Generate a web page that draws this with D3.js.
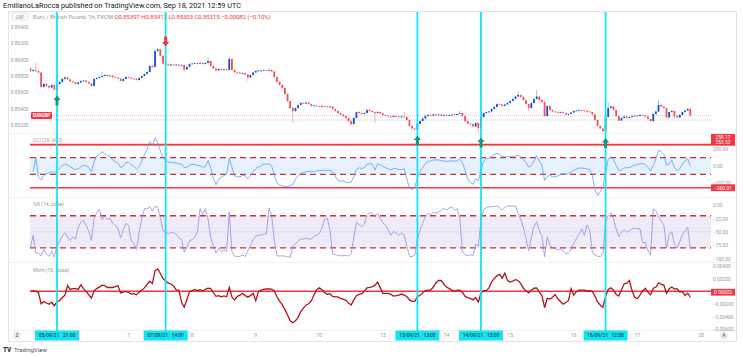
<!DOCTYPE html>
<html><head><meta charset="utf-8">
<script src="https://cdn.jsdelivr.net/npm/d3@7/dist/d3.min.js"></script>
<style>
html,body{margin:0;padding:0;background:#fff;}
svg{display:block;font-family:Roboto,"Liberation Sans",sans-serif;}
</style></head><body>
<svg id="c" width="743" height="356"></svg>
<script>
// ---------------- data (EUR/GBP 1h, FXCM) ----------------
const firstOpen = 0.85892;
const closes = [
.85862,.85874,.85862,.85843,.85666,.85702,.85678,.85659,.85690,.85635,
.85702,.85727,.85764,.85782,.85757,.85733,.85721,.85702,.85721,.85739,
.85745,.85727,.85708,.85678,.85764,.85776,.85788,.85800,.85813,.85800,
.85806,.85788,.85782,.85770,.85739,.85764,.85788,.85782,.85770,.85764,
.85751,.85776,.85800,.85825,.85849,.85923,.85911,.86107,.86125,.86045,
.85953,.85941,.85929,.85941,.85935,.85941,.85929,.85935,.85880,.85911,
.85947,.85953,.85960,.85953,.85960,.85947,.85960,.85984,.85923,.85892,
.85868,.85886,.85874,.85880,.85874,.86009,.85874,.85849,.85843,.85831,
.85837,.85819,.85782,.85813,.85843,.85862,.85868,.85868,.85874,.85868,
.85874,.85855,.85788,.85727,.85690,.85653,.85580,.85494,.85408,.85372,
.85408,.85445,.85470,.85463,.85476,.85457,.85433,.85439,.85433,.85427,
.85433,.85427,.85421,.85427,.85396,.85372,.85347,.85329,.85310,.85286,
.85249,.85212,.85286,.85359,.85347,.85335,.85347,.85384,.85372,.85359,
.85347,.85359,.85341,.85323,.85316,.85304,.85298,.85310,.85304,.85298,
.85304,.85298,.85261,.85188,.85157,.85145,.85212,.85249,.85280,.85310,
.85323,.85316,.85329,.85323,.85329,.85316,.85323,.85316,.85323,.85329,
.85323,.85335,.85347,.85310,.85249,.85218,.85212,.85182,.85225,.85163,
.85298,.85347,.85359,.85365,.85396,.85421,.85457,.85451,.85433,.85451,
.85470,.85494,.85519,.85549,.85568,.85543,.85506,.85457,.85408,.85470,
.85519,.85549,.85506,.85482,.85310,.85433,.85384,.85365,.85359,.85353,
.85359,.85347,.85329,.85335,.85353,.85372,.85378,.85384,.85378,.85372,
.85365,.85359,.85329,.85261,.85188,.85157,.85127,.85298,.85408,.85427,
.85384,.85310,.85255,.85286,.85304,.85286,.85298,.85310,.85316,.85310,
.85323,.85316,.85304,.85274,.85249,.85335,.85365,.85445,.85427,.85408,
.85292,.85359,.85372,.85310,.85292,.85323,.85359,.85378,.85397,.85315];
const highs = [
.85905,.85890,.85960,.85870,.85850,.85715,.85710,.85690,.85700,.85695,
.85710,.85740,.85775,.85795,.85790,.85765,.85740,.85728,.85730,.85748,
.85755,.85752,.85735,.85715,.85772,.85785,.85798,.85850,.85822,.85825,
.85815,.85815,.85795,.85790,.85775,.85770,.85795,.85795,.85788,.85778,
.85770,.85782,.85806,.85832,.85858,.85930,.85935,.86115,.86143,.86130,
.86055,.85965,.85950,.85948,.85950,.85950,.85948,.85945,.85940,.85918,
.85955,.85962,.85968,.85968,.85968,.85966,.85968,.86033,.85990,.85930,
.85898,.85895,.85892,.85888,.85888,.86033,.86018,.85880,.85858,.85850,
.85845,.85842,.85825,.85820,.85850,.85870,.85876,.85878,.85882,.85880,
.85882,.85880,.85862,.85795,.85735,.85700,.85660,.85590,.85500,.85420,
.85415,.85452,.85482,.85480,.85485,.85482,.85462,.85448,.85448,.85440,
.85440,.85440,.85435,.85435,.85432,.85402,.85378,.85355,.85335,.85318,
.85292,.85255,.85295,.85368,.85368,.85355,.85355,.85392,.85392,.85380,
.85365,.85370,.85365,.85348,.85330,.85322,.85312,.85318,.85318,.85312,
.85312,.85359,.85305,.85268,.85195,.85165,.85220,.85258,.85290,.85318,
.85332,.85330,.85336,.85336,.85336,.85336,.85330,.85330,.85330,.85336,
.85336,.85342,.85372,.85352,.85315,.85255,.85228,.85220,.85232,.85230,
.85305,.85355,.85368,.85375,.85405,.85430,.85465,.85468,.85458,.85458,
.85478,.85502,.85528,.85556,.85617,.85575,.85550,.85512,.85462,.85478,
.85528,.85629,.85555,.85512,.85488,.85440,.85440,.85390,.85372,.85366,
.85366,.85366,.85352,.85342,.85360,.85380,.85386,.85392,.85392,.85386,
.85380,.85372,.85365,.85335,.85268,.85195,.85165,.85305,.85482,.85440,
.85432,.85390,.85316,.85292,.85312,.85312,.85305,.85318,.85324,.85324,
.85330,.85330,.85322,.85310,.85280,.85342,.85380,.85506,.85460,.85435,
.85415,.85366,.85380,.85378,.85318,.85330,.85366,.85386,.85405,.85412];
const lows = [
.85850,.85850,.85850,.85830,.85650,.85655,.85665,.85645,.85650,.85625,
.85617,.85695,.85720,.85755,.85750,.85725,.85712,.85695,.85695,.85715,
.85732,.85720,.85700,.85668,.85670,.85755,.85770,.85782,.85795,.85792,
.85792,.85770,.85772,.85760,.85730,.85732,.85758,.85775,.85762,.85755,
.85745,.85745,.85770,.85795,.85818,.85842,.85900,.85905,.86090,.86035,
.85945,.85930,.85920,.85922,.85928,.85928,.85920,.85922,.85849,.85870,
.85905,.85940,.85945,.85945,.85948,.85940,.85940,.85955,.85915,.85885,
.85850,.85860,.85865,.85866,.85866,.85868,.85865,.85840,.85835,.85822,
.85824,.85810,.85739,.85775,.85806,.85838,.85855,.85860,.85862,.85860,
.85862,.85848,.85780,.85718,.85680,.85640,.85565,.85480,.85395,.85225,
.85360,.85400,.85438,.85455,.85455,.85450,.85425,.85425,.85425,.85420,
.85420,.85420,.85412,.85412,.85388,.85362,.85338,.85320,.85300,.85275,
.85238,.85188,.85205,.85280,.85338,.85325,.85328,.85340,.85365,.85350,
.85225,.85340,.85332,.85315,.85308,.85296,.85290,.85290,.85296,.85290,
.85290,.85290,.85252,.85180,.85148,.85130,.85127,.85205,.85242,.85272,
.85305,.85308,.85310,.85315,.85315,.85308,.85308,.85308,.85308,.85315,
.85315,.85315,.85328,.85300,.85240,.85208,.85200,.85170,.85175,.85102,
.85155,.85290,.85340,.85350,.85360,.85390,.85415,.85442,.85425,.85428,
.85445,.85465,.85488,.85512,.85542,.85535,.85498,.85448,.85372,.85400,
.85462,.85512,.85498,.85472,.85298,.85300,.85375,.85355,.85350,.85345,
.85345,.85338,.85320,.85322,.85328,.85346,.85365,.85372,.85370,.85365,
.85358,.85350,.85320,.85252,.85178,.85148,.85096,.85120,.85290,.85400,
.85375,.85300,.85245,.85248,.85278,.85278,.85278,.85290,.85302,.85302,
.85302,.85308,.85296,.85265,.85240,.85242,.85328,.85358,.85418,.85400,
.85282,.85285,.85350,.85274,.85282,.85285,.85315,.85350,.85370,.85303];

const dayTickLabels = ["7","8","9","10","13","14","15","16","17","20"];
const dayTickBars   = [37,61,85,109,133,157,181,205,229,253];
const markerBars    = [10,51,146,170,217];
const markerLabels  = ["05/09/21   21:00","07/09/21   14:00","13/09/21   13:00","14/09/21   13:00","16/09/21   12:00"];
const signalDirs    = ["up","down","up","up","up"];
const priceTicks = [0.852,0.854,0.856,0.858,0.860,0.862,0.864];
const cciTicks = [200,0,-200];
const cciLevels = [258.17,253.52,-260.01];
const cciBand = [100,-100];
const wrTicks = [0,-25,-50,-75,-100];
const wrBand = [-20,-80];
const momTicks = [0.004,0.002,-0.002,-0.004,-0.006];
const momLevel = 0.00002;
const refLine = 0.85261;
const titleText = "EmilianoLaRocca published on TradingView.com, Sep 18, 2021 12:59 UTC";
const symbolText = "Euro / British Pound, 1h, FXCM";
const ohlcText = "O0.85397  H0.85412  L0.85303  C0.85315  −0.00082 (−0.10%)";

// ---------------- layout ----------------
const svg = d3.select("#c");
const PL = 30, PR = 711;
const paneMain=[12,133], paneCci=[133,197], paneWr=[197,262], paneMom=[262,330];
const n = closes.length;
const x = d3.scaleLinear().domain([0, n-1]).range([30.5, 30.5+2.65*(n-1)]);
const yP = d3.scaleLinear().domain([0.852,0.864]).range([125,27]);
const yC = d3.scaleLinear().domain([-200,200]).range([182.7,149.3]);
const yW = d3.scaleLinear().domain([-100,0]).range([258.7,205]);
const yM = d3.scaleLinear().domain([-0.004,0.004]).range([316.7,266]);
const grey = "#9598a1", red="#f23645";
const upCol="#1c4fd6", dnCol="#f2525f", upWick="#6fc7d6", dnWick="#f7a0a6";
const opens = closes.map((c,i)=> i===0 ? firstOpen : closes[i-1]);

// frame
svg.append("rect").attr("x",8.5).attr("y",11.5).attr("width",728).attr("height",330)
  .attr("fill","none").attr("stroke","#e0e3eb");
[paneMain[1],paneCci[1],paneWr[1],paneMom[1]].forEach(v=>{
  svg.append("line").attr("x1",9).attr("x2",736).attr("y1",v+0.5).attr("y2",v+0.5).attr("stroke","#f0f1f4");
});

const defs = svg.append("defs");
function clip(id,p){ defs.append("clipPath").attr("id",id).append("rect")
  .attr("x",PL).attr("y",p[0]).attr("width",PR-PL).attr("height",p[1]-p[0]); }
clip("cm",paneMain); clip("cc",paneCci); clip("cw",paneWr); clip("cmo",paneMom);

// title
svg.append("text").attr("x",3).attr("y",8).attr("font-size",7.3).attr("fill","#131722").text(titleText);

// header legend
svg.append("rect").attr("x",12.5).attr("y",13).attr("width",15).attr("height",7).attr("rx",2)
  .attr("fill","#fff").attr("stroke","#c9ccd3").attr("stroke-width",0.6);
svg.append("text").attr("x",20).attr("y",18.6).attr("text-anchor","middle").attr("font-size",4.6).attr("fill",grey).text("GBP");
const hdr = svg.append("text").attr("x",33).attr("y",18.8).attr("font-size",5.9);
hdr.append("tspan").attr("fill",grey).text(symbolText+"  ");
hdr.append("tspan").attr("fill","#f23645").text(ohlcText);

// ---------------- main pane ----------------
const gAx = svg.append("g").attr("transform","translate(28.5,0)")
  .call(d3.axisLeft(yP).tickValues(priceTicks).tickFormat(d3.format(".5f")).tickSize(0).tickPadding(0));
gAx.select(".domain").remove();
gAx.selectAll("text").attr("font-size",4.9).attr("fill",grey).attr("font-family","Roboto,sans-serif");

const gm = svg.append("g").attr("clip-path","url(#cm)");
gm.append("line").attr("x1",PL).attr("x2",PR).attr("y1",yP(refLine)).attr("y2",yP(refLine))
  .attr("stroke","#d9dbe0").attr("stroke-width",0.8);
gm.append("line").attr("x1",PL).attr("x2",PR).attr("y1",yP(closes[n-1])).attr("y2",yP(closes[n-1]))
  .attr("stroke","#f7a7ad").attr("stroke-width",0.8).attr("stroke-dasharray","1,1");

const bars = d3.range(n);
gm.selectAll("line.wick").data(bars).join("line").attr("class","wick")
  .attr("x1",i=>x(i)).attr("x2",i=>x(i))
  .attr("y1",i=>yP(highs[i])).attr("y2",i=>yP(lows[i]))
  .attr("stroke",i=>closes[i]>=opens[i]?upWick:dnWick).attr("stroke-width",0.8);
gm.selectAll("rect.body").data(bars).join("rect").attr("class","body")
  .attr("x",i=>x(i)-0.9).attr("width",1.8)
  .attr("y",i=>yP(Math.max(opens[i],closes[i])))
  .attr("height",i=>Math.max(0.8, Math.abs(yP(opens[i])-yP(closes[i]))))
  .attr("fill",i=>closes[i]>=opens[i]?upCol:dnCol);

// last price badge
svg.append("rect").attr("x",31).attr("y",yP(closes[n-1])-3.6).attr("width",21).attr("height",7)
  .attr("rx",1).attr("fill","#f23645");
svg.append("text").attr("x",41.5).attr("y",yP(closes[n-1])+1.7).attr("text-anchor","middle")
  .attr("font-size",4.6).attr("font-weight","bold").attr("fill","#fff").text("EURGBP");

// ---------------- CCI ----------------
const tp = closes.map((c,i)=>(highs[i]+lows[i]+c)/3);
const cci = tp.map((v,i)=>{
  const w = tp.slice(Math.max(0,i-19), i+1);
  if (w.length<2) return null;
  const m = d3.mean(w), dev = d3.mean(w, d=>Math.abs(d-m));
  return dev===0?null:(v-m)/(0.015*dev);
});
const gc = svg.append("g").attr("clip-path","url(#cc)");
gc.append("rect").attr("x",PL).attr("width",PR-PL).attr("y",yC(cciBand[0])).attr("height",yC(cciBand[1])-yC(cciBand[0]))
  .attr("fill","#e6f1fd");
cciBand.forEach(v=>gc.append("line").attr("x1",PL).attr("x2",PR).attr("y1",yC(v)).attr("y2",yC(v))
  .attr("stroke","#c0343c").attr("stroke-width",1.3).attr("stroke-dasharray","6,4"));
cciLevels.forEach(v=>gc.append("line").attr("x1",PL).attr("x2",PR).attr("y1",yC(v)).attr("y2",yC(v))
  .attr("stroke",red).attr("stroke-width",1.4));
gc.append("path").datum(bars.filter(i=>cci[i]!==null))
  .attr("d",d3.line().x(i=>x(i)).y(i=>yC(cci[i])))
  .attr("fill","none").attr("stroke","#5c9cf5").attr("stroke-width",0.8);
svg.append("text").attr("x",33).attr("y",paneCci[0]+8.5).attr("font-size",5).attr("fill",grey).text("CCI (20, hlc3)");

// ---------------- Williams %R ----------------
const wr = closes.map((c,i)=>{
  const s=Math.max(0,i-13);
  const hh=d3.max(highs.slice(s,i+1)), ll=d3.min(lows.slice(s,i+1));
  return hh===ll?null:100*(c-hh)/(hh-ll);
});
const gw = svg.append("g").attr("clip-path","url(#cw)");
gw.append("rect").attr("x",PL).attr("width",PR-PL).attr("y",yW(wrBand[0])).attr("height",yW(wrBand[1])-yW(wrBand[0]))
  .attr("fill","#efebf9");
gw.append("line").attr("x1",PL).attr("x2",PR).attr("y1",yW(-50)).attr("y2",yW(-50)).attr("stroke","#d6d0ea").attr("stroke-width",0.7);
wrBand.forEach(v=>gw.append("line").attr("x1",PL).attr("x2",PR).attr("y1",yW(v)).attr("y2",yW(v))
  .attr("stroke","#c0343c").attr("stroke-width",1.3).attr("stroke-dasharray","6,4"));
gw.append("path").datum(bars.filter(i=>wr[i]!==null))
  .attr("d",d3.line().x(i=>x(i)).y(i=>yW(wr[i])))
  .attr("fill","none").attr("stroke","#9d8ce0").attr("stroke-width",0.8);
svg.append("text").attr("x",33).attr("y",paneWr[0]+9).attr("font-size",5).attr("fill",grey).text("%R (14, close)");

// ---------------- Momentum ----------------
const mom = closes.map((c,i)=> c - closes[Math.max(0,i-10)]);
const gmo = svg.append("g").attr("clip-path","url(#cmo)");
gmo.append("line").attr("x1",PL).attr("x2",PR).attr("y1",yM(momLevel)).attr("y2",yM(momLevel))
  .attr("stroke",red).attr("stroke-width",1.4);
gmo.append("path").datum(bars)
  .attr("d",d3.line().x(i=>x(i)).y(i=>yM(mom[i])))
  .attr("fill","none").attr("stroke","#b2141c").attr("stroke-width",1.3);
svg.append("text").attr("x",33).attr("y",paneMom[0]+10).attr("font-size",5).attr("fill",grey).text("Mom (10, close)");

// ---------------- right axes ----------------
function rAxis(scale, ticks, fmt){
  const g = svg.append("g").attr("transform",`translate(${PR+1},0)`)
    .call(d3.axisRight(scale).tickValues(ticks).tickFormat(fmt).tickSize(0).tickPadding(1));
  g.select(".domain").remove();
  g.selectAll("text").attr("font-size",4.9).attr("fill",grey).attr("font-family","Roboto,sans-serif");
}
rAxis(yC, cciTicks, d3.format(".2f"));
rAxis(yW, wrTicks, d=>d3.format(".2f")(d));
rAxis(yM, momTicks, d3.format(".5f"));

function badge(yc, txt){
  svg.append("rect").attr("x",PR).attr("y",yc-3.4).attr("width",24).attr("height",6.8).attr("fill",red);
  svg.append("text").attr("x",PR+12).attr("y",yc+1.8).attr("text-anchor","middle").attr("font-size",4.9)
    .attr("fill","#fff").text(txt);
}
badge(yC(cciLevels[0])-7, d3.format(".2f")(cciLevels[0]));
badge(yC(cciLevels[1])-2.5, d3.format(".2f")(cciLevels[1]));
badge(yC(cciLevels[2]), d3.format(".2f")(cciLevels[2]));
badge(yM(momLevel)+1, d3.format(".5f")(momLevel));

// ---------------- vertical marker lines & signals ----------------
markerBars.forEach(b=>{
  svg.append("line").attr("x1",x(b)).attr("x2",x(b)).attr("y1",12).attr("y2",331)
    .attr("stroke","#12e4f2").attr("stroke-width",1.8);
});
signalDirs.forEach((d,k)=>{
  const b = markerBars[k], cx = x(b);
  let p;
  if (d==="up"){
    const lo = d3.min(lows.slice(Math.max(0,b-3), b+1));
    const t = yP(lo)+4.5;
    p = `M${cx},${t} L${cx+3.6},${t+4.5} L${cx+1.5},${t+4.5} L${cx+1.5},${t+10} L${cx-1.5},${t+10} L${cx-1.5},${t+4.5} L${cx-3.6},${t+4.5} Z`;
    svg.append("path").attr("d",p).attr("fill","#0e9982");
  } else {
    const hi = d3.max(highs.slice(Math.max(0,b-4), b+1));
    const bt = yP(hi)-1.5;
    p = `M${cx},${bt} L${cx+3.6},${bt-4.5} L${cx+1.5},${bt-4.5} L${cx+1.5},${bt-10} L${cx-1.5},${bt-10} L${cx-1.5},${bt-4.5} L${cx-3.6},${bt-4.5} Z`;
    svg.append("path").attr("d",p).attr("fill","#f23645");
  }
});

// ---------------- time axis ----------------
dayTickBars.forEach((b,k)=>{
  svg.append("text").attr("x",x(b)).attr("y",337).attr("text-anchor","middle")
    .attr("font-size",5).attr("fill",grey).text(dayTickLabels[k]);
});
markerBars.forEach((b,k)=>{
  svg.append("rect").attr("x",x(b)-22).attr("y",330.5).attr("width",44).attr("height",10).attr("fill","#12e4f2");
  svg.append("text").attr("x",x(b)).attr("y",337.3).attr("text-anchor","middle").attr("font-size",4.9)
    .attr("fill","#131722").attr("xml:space","preserve").text(markerLabels[k]);
});
// corner buttons
[[17,"Z"],[724,"A"]].forEach(([cx,t])=>{
  svg.append("circle").attr("cx",cx).attr("cy",335.5).attr("r",4.2).attr("fill","#eceef2");
  svg.append("text").attr("x",cx).attr("y",337.4).attr("text-anchor","middle").attr("font-size",5).attr("fill","#50535e").text(t);
});

// footer logo
svg.append("text").attr("x",3).attr("y",352).attr("font-size",6.5).attr("font-weight","bold").attr("fill","#131722").text("TV");
svg.append("text").attr("x",14).attr("y",352).attr("font-size",6).attr("fill","#50535e").text("TradingView");
</script>
</body></html>
